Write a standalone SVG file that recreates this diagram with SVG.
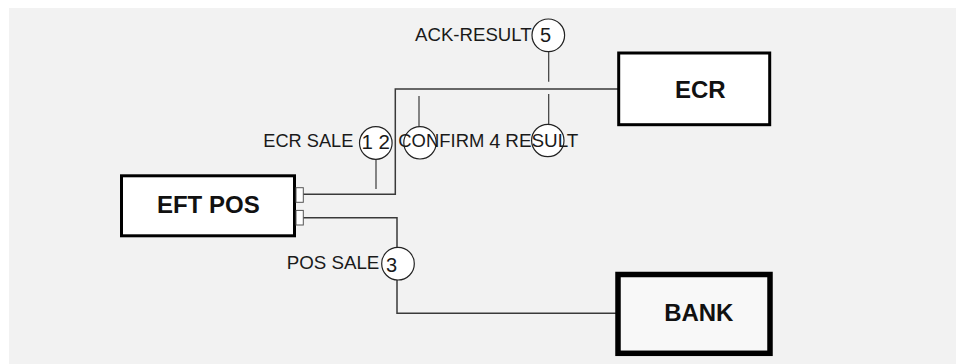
<svg xmlns="http://www.w3.org/2000/svg" width="956" height="364" viewBox="0 0 956 364">
  <style>
    .box { fill: #ffffff; stroke: #000000; stroke-width: 3; }
    .bank { fill: #f8f8f8; stroke: #000000; stroke-width: 5.5; }
    .port { fill: #ffffff; stroke: #555555; stroke-width: 1; }
    .title { font-family: "Liberation Sans", Arial, sans-serif; font-weight: bold; font-size: 24px; fill: #111111; text-anchor: middle; }
    .wire { fill: none; stroke: #3a3a3a; stroke-width: 1.5; }
    .tick { fill: none; stroke: #3a3a3a; stroke-width: 1.2; }
    .badge { fill: #ffffff; stroke: #222222; stroke-width: 1.2; }
    .lbl { font-family: "Liberation Sans", Arial, sans-serif; font-size: 18.7px; fill: #1a1a1a; }
    .num { font-family: "Liberation Sans", Arial, sans-serif; font-size: 20px; fill: #1a1a1a; }
  </style>

  <rect x="9" y="8" width="947" height="356" fill="#f2f2f2"/>

  <!-- connectors -->
  <g id="connectors">
    <polyline class="wire" points="303,194.3 395.3,194.3 395.3,89 618,89"/>
    <polyline class="wire" points="303,217.7 397,217.7 397,247.5"/>
    <polyline class="wire" points="397,280 397,313.3 616,313.3"/>
    <line class="tick" x1="376" y1="159.3" x2="376" y2="189"/>
    <line class="tick" x1="419" y1="96" x2="419" y2="126.7"/>
    <line class="tick" x1="548.7" y1="51.7" x2="548.7" y2="81.7"/>
    <line class="tick" x1="548.7" y1="94" x2="548.7" y2="124.3"/>
  </g>

  <!-- EFT POS terminal -->
  <g id="eftpos">
    <rect class="box" x="121.5" y="175.8" width="173" height="60"/>
    <text class="title" x="208.3" y="213.3">EFT POS</text>
    <rect class="port" x="296" y="187.7" width="7.3" height="14.6"/>
    <rect class="port" x="296" y="210.4" width="7.3" height="14.6"/>
  </g>

  <!-- ECR -->
  <g id="ecr">
    <rect class="box" x="618.7" y="53" width="151" height="71.7"/>
    <text class="title" x="700.3" y="98.3">ECR</text>
  </g>

  <!-- BANK -->
  <g id="bank">
    <rect class="bank" x="618" y="274.5" width="152" height="78.8"/>
    <text class="title" x="698.8" y="321">BANK</text>
  </g>

  <!-- message badges -->
  <g id="msg-ecr-sale">
    <circle class="badge" cx="375.8" cy="143" r="16.3"/>
    <text class="lbl" x="263.3" y="147.3" textLength="90" lengthAdjust="spacingAndGlyphs">ECR SALE</text>
    <text class="num" x="361.5" y="149.3" textLength="28.5" lengthAdjust="spacingAndGlyphs">1 2</text>
  </g>

  <g id="msg-confirm">
    <circle class="badge" cx="420" cy="142.8" r="16.2"/>
    <text class="lbl" x="398.3" y="147.3" textLength="86" lengthAdjust="spacingAndGlyphs">CONFIRM</text>
  </g>

  <g id="msg-result">
    <circle class="badge" cx="547.8" cy="140.5" r="16.2"/>
    <text class="num" x="489.3" y="148.3">4</text>
    <text class="lbl" x="505.3" y="147.3" textLength="73" lengthAdjust="spacingAndGlyphs">RESULT</text>
  </g>

  <g id="msg-ack-result">
    <circle class="badge" cx="548.3" cy="35.3" r="16.3"/>
    <text class="lbl" x="415" y="41" textLength="116.7" lengthAdjust="spacingAndGlyphs">ACK-RESULT</text>
    <text class="num" x="540" y="42.3">5</text>
  </g>

  <g id="msg-pos-sale">
    <circle class="badge" cx="398" cy="263.7" r="16.3"/>
    <text class="lbl" x="286.7" y="269" textLength="92.6" lengthAdjust="spacingAndGlyphs">POS SALE</text>
    <text class="num" x="386" y="271.7">3</text>
  </g>
</svg>
